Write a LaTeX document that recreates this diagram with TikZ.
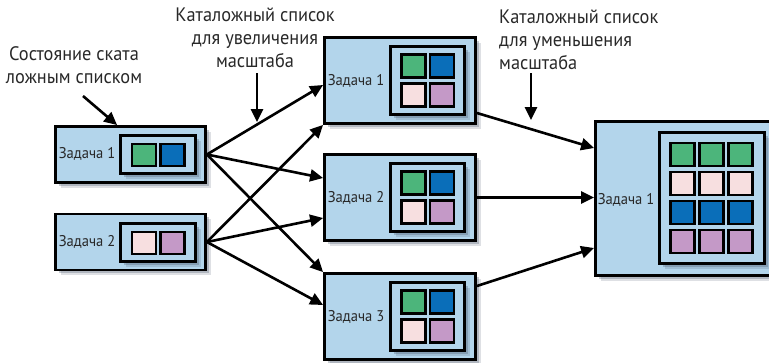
\documentclass[tikz,border=0pt]{standalone}
\usepackage{fontspec}
\setmainfont{PT Sans}[FakeStretch=0.94]
\usetikzlibrary{arrows.meta,shadows,calc}
\definecolor{boxblue}{RGB}{179,213,235}
\definecolor{sqgreen}{RGB}{76,181,123}
\definecolor{sqblue}{RGB}{10,110,185}
\definecolor{sqpink}{RGB}{247,223,224}
\definecolor{sqpurple}{RGB}{196,153,199}
\definecolor{shadowc}{RGB}{70,85,105}
\definecolor{txt}{RGB}{40,40,40}
\begin{document}
\begin{tikzpicture}[x=1pt,y=-1pt,
  shad/.style={drop shadow={shadow xshift=5pt,shadow yshift=-5pt,fill=shadowc,opacity=0.18},
               drop shadow={shadow xshift=3pt,shadow yshift=-3pt,fill=shadowc,opacity=0.3}},
  outerbox/.style={draw=black,line width=2.8pt,fill=boxblue,shad,inner sep=0pt},
  innerbox/.style={draw=black,line width=2.8pt,fill=boxblue,shad,inner sep=0pt},
  sq/.style={draw=black,line width=2.8pt,inner sep=0pt,minimum width=24pt,minimum height=23pt},
  lbl/.style={font=\fontsize{15.5}{18}\selectfont,text=txt,inner sep=0pt},
  ann/.style={font=\fontsize{19.5}{23}\selectfont,text=txt,inner sep=0pt},
  arr/.style={line width=2.6pt,-{Triangle[length=13pt,width=12pt]}}
]
\useasboundingbox (0,0) rectangle (769,362);

% ---------- left boxes ----------
\node[outerbox,minimum width=150pt,minimum height=56pt] (l1) at (130.5,154.5) {};
\node[innerbox,minimum width=75pt,minimum height=38pt] (l1i) at (158,154.5) {};
\node[sq,fill=sqgreen,minimum height=22pt] (l1a) at (144,155) {};
\node[sq,fill=sqblue,minimum height=22pt] (l1b) at (172.5,155) {};
\node[lbl] (l1t) at (87,154) {Задача 1};

\node[outerbox,minimum width=150pt,minimum height=56pt] (l2) at (130.5,242) {};
\node[innerbox,minimum width=75pt,minimum height=38pt] (l2i) at (158,242.5) {};
\node[sq,fill=sqpink,minimum height=22pt] (l2a) at (144,243) {};
\node[sq,fill=sqpurple,minimum height=22pt] (l2b) at (172.5,243) {};
\node[lbl] (l2t) at (87,242) {Задача 2};

% ---------- middle boxes ----------
\foreach \n/\c/\k in {m1/80.5/1, m2/197.5/2, m3/316.5/3}{
  \node[outerbox,minimum width=151pt,minimum height=86pt] (\n) at (400,\c) {};
  \node[innerbox,minimum width=74pt,minimum height=68pt] (\n i) at (427.5,\c) {};
  \node[sq,fill=sqgreen]  (\n a) at (413.5,\c-14.5) {};
  \node[sq,fill=sqblue]   (\n b) at (442,\c-14.5) {};
  \node[sq,fill=sqpink]   (\n c) at (413.5,\c+14.5) {};
  \node[sq,fill=sqpurple] (\n d) at (442,\c+14.5) {};
  \node[lbl] (\n t) at (356,\c) {Задача \k};
}

% ---------- right box ----------
\node[outerbox,minimum width=214pt,minimum height=154pt] (r) at (702.5,198.5) {};
\node[innerbox,minimum width=105pt,minimum height=131pt] (ri) at (712,198) {};
\foreach \row/\y/\col in {1/154.5/sqgreen, 2/183.5/sqpink, 3/212.5/sqblue, 4/241.5/sqpurple}{
  \foreach \cc/\x in {1/682.5, 2/711.5, 3/740.5}{
    \node[sq,fill=\col] (r\row\cc) at (\x,\y) {};
  }
}
\node[lbl] (rt) at (626,200) {Задача 1};

% ---------- annotations ----------
\node[ann,align=center] (a1) at (74,65) {Состояние ската\\ложным списком};
\node[ann,align=center] (a2) at (255,38) {Каталожный список\\для увеличения\\масштаба};
\node[ann,align=left,anchor=west] (a3) at (499,40) {Каталожный список\\для уменьшения\\масштаба};

\coordinate (p1s) at (83,96);
\coordinate (p2s) at (257,73);
\coordinate (p2e) at (257,122);
\coordinate (p3s) at (531,73);
\coordinate (p3e) at (531,120);

\draw[arr] (p1s) -- ($(l1.north west)+(63,0)$);
\draw[arr] (p2s) -- (p2e);
\draw[arr] (p3s) -- (p3e);

% ---------- connectors ----------
\draw[arr] (l1.east) -- ($(m1.west)+(0,4.5)$);
\draw[arr] (l1.east) -- ($(m2.west)+(0,-19.5)$);
\draw[arr] (l1.east) -- (m3.north west);
\draw[arr] (l2.east) -- (m1.south west);
\draw[arr] (l2.east) -- ($(m2.west)+(0,20.5)$);
\draw[arr] (l2.east) -- ($(m3.west)+(0,-11.5)$);

\draw[arr] ($(m1.east)+(0,32.5)$) -- ($(r.west)+(0,-50.5)$);
\draw[arr] (m2.east) -- (r.west |- m2.east);
\draw[arr] ($(m3.east)+(0,-30.5)$) -- ($(r.west)+(0,49.5)$);
\end{tikzpicture}
\end{document}
